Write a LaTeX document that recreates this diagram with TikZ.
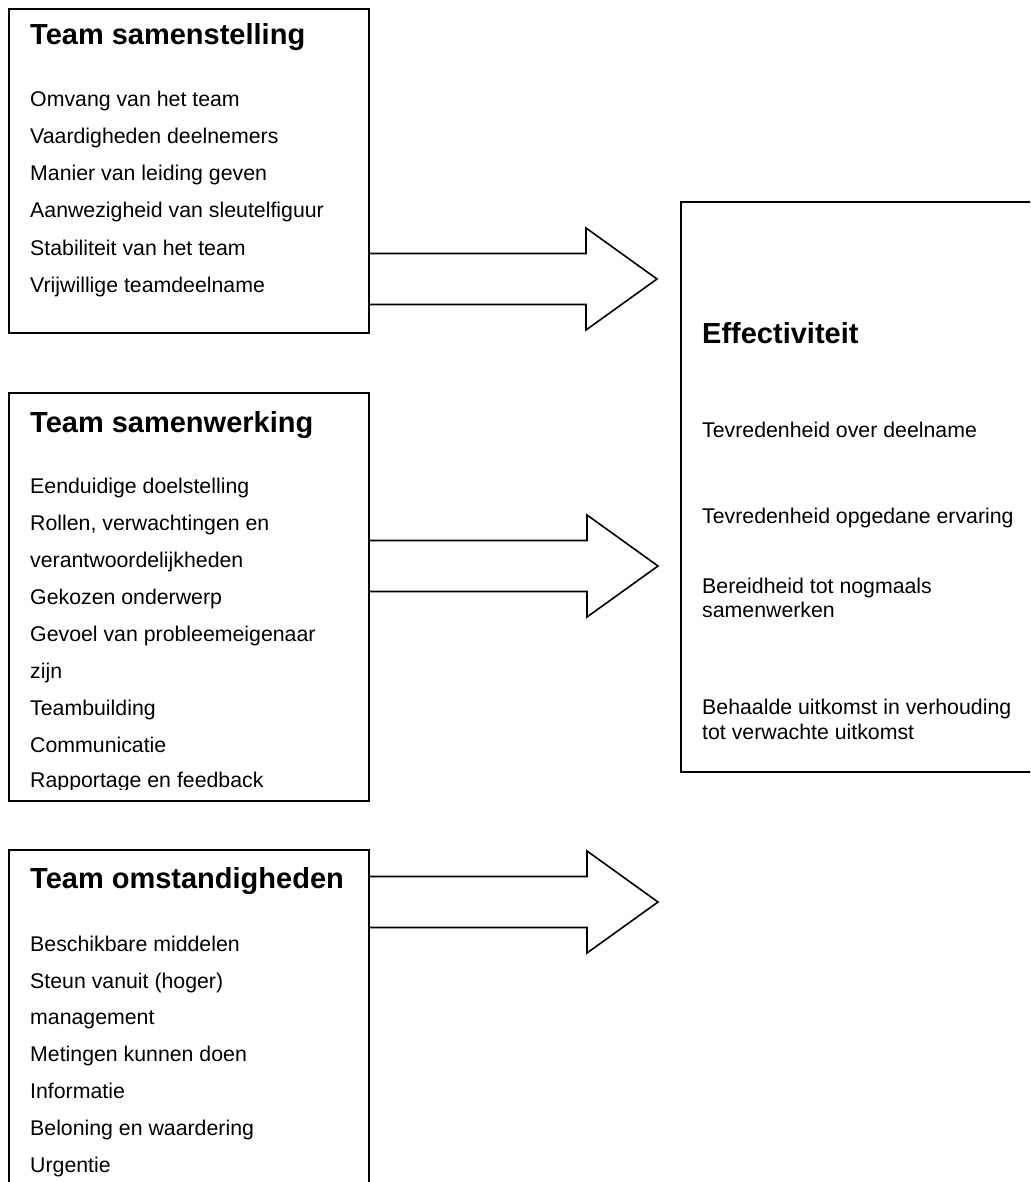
\documentclass[tikz,border=0pt]{standalone}
\usepackage{fontspec}
\setmainfont{Liberation Sans}
\usetikzlibrary{calc}
\tikzset{
  box/.style={draw, line width=1.6pt, anchor=north west, inner sep=0pt, outer sep=0pt, minimum width=360pt},
  ttl/.style={anchor=base west, inner sep=0pt, font=\fontsize{29}{34}\selectfont\bfseries},
  itm/.style={anchor=base west, inner sep=0pt, font=\fontsize{21.3}{24.5}\selectfont},
  fat/.style={draw, line width=1.6pt, line join=miter},
}
\newcommand\fatarrow[2]{%
  \draw[fat] ($(#1)+(0,-25.5)$) -- ($(#2)+(-71,-25.5)$) -- ($(#2)+(-71,-51)$) -- (#2)
    -- ($(#2)+(-71,51)$) -- ($(#2)+(-71,25.5)$) -- ($(#1)+(0,25.5)$);}
\begin{document}
\begin{tikzpicture}[x=1pt,y=-1pt]
\useasboundingbox (0,0) rectangle (1030,1182);
\clip (0,0) rectangle (1030,1182);

% boxes
\node[box, minimum height=324pt] (b1) at (9,9) {};
\node[box, minimum height=408pt] (b2) at (9,393) {};
\node[box, minimum height=400pt] (b3) at (9,850) {};
\node[box, minimum width=400pt, minimum height=570pt] (eff) at (681,202) {};

% box 1
\node[ttl] (t1h) at (30,45) {Team samenstelling};
\node[itm] (a1) at (30,107) {Omvang van het team};
\node[itm] (a2) at (30,144) {Vaardigheden deelnemers};
\node[itm] (a3) at (30,181) {Manier van leiding geven};
\node[itm] (a4) at (30,218) {Aanwezigheid van sleutelfiguur};
\node[itm] (a5) at (30,255) {Stabiliteit van het team};
\node[itm] (a6) at (30,292) {Vrijwillige teamdeelname};

% box 2
\node[ttl] (t2h) at (30,432) {Team samenwerking};
\node[itm] (c1) at (30,493) {Eenduidige doelstelling};
\node[itm] (c2) at (30,530) {Rollen, verwachtingen en};
\node[itm] (c3) at (30,567) {verantwoordelijkheden};
\node[itm] (c4) at (30,604) {Gekozen onderwerp};
\node[itm] (c5) at (30,641) {Gevoel van probleemeigenaar};
\node[itm] (c6) at (30,678) {zijn};
\node[itm] (c7) at (30,715) {Teambuilding};
\node[itm] (c8) at (30,752) {Communicatie};
\begin{scope}
  \clip (10,760) rectangle (368,789);
  \node[itm] (c9) at (30,787) {Rapportage en feedback};
\end{scope}

% box 3
\node[ttl] (t3h) at (30,888) {Team omstandigheden};
\node[itm] (d1) at (30,951) {Beschikbare middelen};
\node[itm] (d2) at (30,988) {Steun vanuit (hoger)};
\node[itm] (d3) at (30,1024) {management};
\node[itm] (d4) at (30,1061) {Metingen kunnen doen};
\node[itm] (d5) at (30,1098) {Informatie};
\node[itm] (d6) at (30,1135) {Beloning en waardering};
\node[itm] (d7) at (30,1172) {Urgentie};

% effectiviteit
\node[ttl] (teh) at (702,343) {Effectiviteit};
\node[itm] (e1) at (702,437) {Tevredenheid over deelname};
\node[itm] (e2) at (702,523) {Tevredenheid opgedane ervaring};
\node[itm] (e3) at (702,593) {Bereidheid tot nogmaals};
\node[itm] (e3b) at (702,617) {samenwerken};
\node[itm] (e4) at (702,714) {Behaalde uitkomst in verhouding};
\node[itm] (e4b) at (702,739) {tot verwachte uitkomst};

% arrows
\coordinate (tip1) at (657,279);
\coordinate (tip2) at (658,566);
\coordinate (tip3) at (658,902);
\coordinate (s1) at (b1.east |- tip1);
\coordinate (s2) at (b2.east |- tip2);
\coordinate (s3) at (b3.east |- tip3);
\fatarrow{s1}{tip1}
\fatarrow{s2}{tip2}
\fatarrow{s3}{tip3}
\end{tikzpicture}
\end{document}
